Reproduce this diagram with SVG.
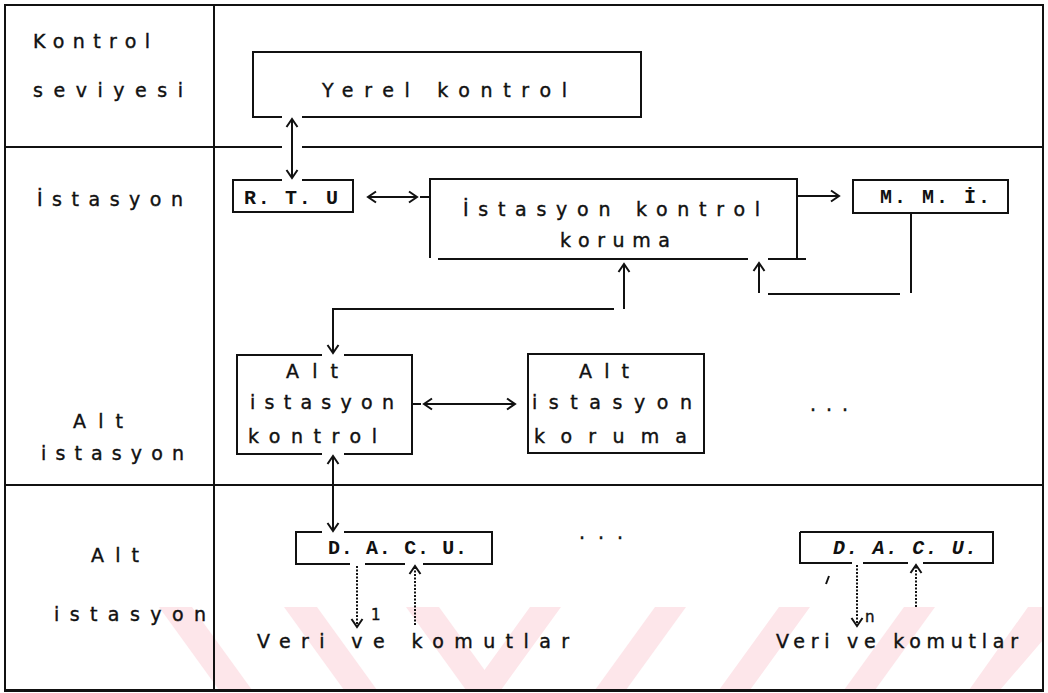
<svg xmlns="http://www.w3.org/2000/svg" width="1048" height="693" viewBox="0 0 1048 693">
<style>
.ln{fill:none;stroke:#111;stroke-width:2}
.dot{fill:none;stroke:#111;stroke-width:2;stroke-dasharray:2 1.5}
.t{font-family:"DejaVu Sans","Liberation Sans",sans-serif;font-size:19px;fill:#111;stroke:#111;stroke-width:0.4}
.b{font-family:"Liberation Mono","DejaVu Sans Mono",monospace;font-size:20px;font-weight:bold;fill:#111}
.s{font-family:"DejaVu Sans",sans-serif;font-size:15px;fill:#111;stroke:#111;stroke-width:0.4}
.wm{fill:#fde6ea}
</style>
<defs>
<marker id="ah" viewBox="-10 -8 12 16" refX="0" refY="0" markerWidth="12" markerHeight="16" markerUnits="userSpaceOnUse" orient="auto-start-reverse">
<path d="M-8,-5.5 L0,0 L-8,5.5" fill="none" stroke="#111" stroke-width="2"/>
</marker>
</defs>
<rect width="1048" height="693" fill="#fff"/>
<g id="watermark">
<polygon class="wm" points="159,607 192,607 252,690 219,690"/>
<polygon class="wm" points="284,607 317,607 377,690 344,690"/>
<polygon class="wm" points="406,607 439,607 499,690 466,690"/>
<polygon class="wm" points="530,607 561,607 501,690 470,690"/>
<polygon class="wm" points="655,607 686,607 626,690 595,690"/>
<polygon class="wm" points="779,607 810,607 750,690 719,690"/>
<polygon class="wm" points="904,607 935,607 875,690 844,690"/>
<polygon class="wm" points="1028,607 1043,607 1043,640 1000,690 969,690"/>
</g>
<g id="frame">
<rect class="ln" x="5" y="5" width="1038" height="686"/>
<line class="ln" x1="5" y1="690" x2="1043" y2="690" stroke-width="3"/>
<line class="ln" x1="214" y1="5" x2="214" y2="691"/>
<path class="ln" d="M5,147 H282 M302,147 H1043"/>
<line class="ln" x1="5" y1="485" x2="1043" y2="485"/>
</g>
<g id="labels">
<text class="t" x="33" y="48" textLength="117" lengthAdjust="spacing">Kontrol</text>
<text class="t" x="33" y="97" textLength="150" lengthAdjust="spacing">seviyesi</text>
<text class="t" x="37" y="206" textLength="146" lengthAdjust="spacing">İstasyon</text>
<text class="t" x="73" y="428" textLength="50" lengthAdjust="spacing">Alt</text>
<text class="t" x="41" y="460" textLength="143" lengthAdjust="spacing">istasyon</text>
<text class="t" x="91" y="562" textLength="48" lengthAdjust="spacing">Alt</text>
<text class="t" x="54" y="621" textLength="152" lengthAdjust="spacing">istasyon</text>
</g>
<g id="yerel">
<path class="ln" d="M282,117 H253 V52 H641 V117 H302"/>
<text class="t" x="322" y="97" textLength="245" lengthAdjust="spacing">Yerel kontrol</text>
</g>
<g id="rtu">
<path class="ln" d="M282,180 H233 V212 H353 V180 H302"/>
<text class="b" x="244" y="204" textLength="94" lengthAdjust="spacing">R. T. U</text>
</g>
<g id="istasyon">
<path class="ln" d="M430,258 V179 H797 V259"/>
<path class="ln" d="M438,259 H748 M768,259 H806"/>
<text class="t" x="463" y="216" textLength="297" lengthAdjust="spacing">İstasyon kontrol</text>
<text class="t" x="560" y="247" textLength="110" lengthAdjust="spacing">koruma</text>
</g>
<g id="mmi">
<rect class="ln" x="853" y="180" width="155" height="33"/>
<text class="b" x="880" y="203" textLength="110" lengthAdjust="spacing">M. M. İ.</text>
</g>
<g id="altkontrol">
<path class="ln" d="M322,355 H237 V454 H322 M344,454 H412 V355 H344"/>
<text class="t" x="286" y="378" textLength="52" lengthAdjust="spacing">Alt</text>
<text class="t" x="250" y="409" textLength="144" lengthAdjust="spacing">istasyon</text>
<text class="t" x="248" y="443" textLength="129" lengthAdjust="spacing">kontrol</text>
</g>
<g id="altkoruma">
<rect class="ln" x="528" y="354" width="176" height="99"/>
<text class="t" x="579" y="378" textLength="50" lengthAdjust="spacing">Alt</text>
<text class="t" x="532" y="409" textLength="160" lengthAdjust="spacing">istasyon</text>
<text class="t" x="534" y="443" textLength="153" lengthAdjust="spacing">koruma</text>
</g>
<g id="dots1">
<text class="t" x="810" y="411" textLength="38" lengthAdjust="spacing">...</text>
</g>
<g id="dacu1">
<path class="ln" d="M322,532 H296 V564 H350 M365,564 H405 M423,564 H492 V532 H344"/>
<text class="b" x="328" y="554" textLength="139" lengthAdjust="spacing">D. A. C. U.</text>
</g>
<g id="dots2">
<text class="t" x="579" y="539" textLength="44" lengthAdjust="spacing">...</text>
</g>
<g id="dacun">
<path class="ln" d="M800,532 V563 H852 M863,563 H908 M923,563 H993 V532 H800"/>
<text class="b" x="833" y="554" textLength="144" lengthAdjust="spacing" font-style="italic">D. A. C. U.</text>
<line class="ln" x1="829" y1="576" x2="826" y2="584"/>
</g>
<g id="outputs">
<text class="s" x="371" y="620">1</text>
<text class="s" x="865" y="622">n</text>
<text class="t" x="257" y="648" textLength="312" lengthAdjust="spacing">Veri ve komutlar</text>
<text class="t" x="776" y="648" textLength="242" lengthAdjust="spacing">Veri ve komutlar</text>
</g>
<g id="connectors">
<line class="ln" x1="292" y1="119" x2="292" y2="178" marker-start="url(#ah)" marker-end="url(#ah)"/>
<line class="ln" x1="368" y1="197" x2="417" y2="197" marker-start="url(#ah)" marker-end="url(#ah)"/>
<line class="ln" x1="420" y1="197" x2="430" y2="197"/>
<line class="ln" x1="797" y1="196" x2="839" y2="196" marker-end="url(#ah)"/>
<path class="ln" d="M911,213 V293"/>
<path class="ln" d="M900,294 H768"/>
<line class="ln" x1="759" y1="293" x2="759" y2="263" marker-end="url(#ah)"/>
<line class="ln" x1="624" y1="309" x2="624" y2="264" marker-end="url(#ah)"/>
<path class="ln" d="M614,309 H333 V353" marker-end="url(#ah)"/>
<line class="ln" x1="424" y1="404" x2="515" y2="404" marker-start="url(#ah)" marker-end="url(#ah)"/>
<line class="ln" x1="412" y1="404" x2="421" y2="404"/>
<line class="ln" x1="333" y1="456" x2="333" y2="531" marker-start="url(#ah)" marker-end="url(#ah)"/>
<line class="dot" x1="357" y1="566" x2="357" y2="627" marker-end="url(#ah)"/>
<line class="dot" x1="415" y1="625" x2="415" y2="566" marker-end="url(#ah)"/>
<line class="dot" x1="857" y1="565" x2="857" y2="626" marker-end="url(#ah)"/>
<line class="dot" x1="916" y1="607" x2="916" y2="565" marker-end="url(#ah)"/>
</g>
</svg>
